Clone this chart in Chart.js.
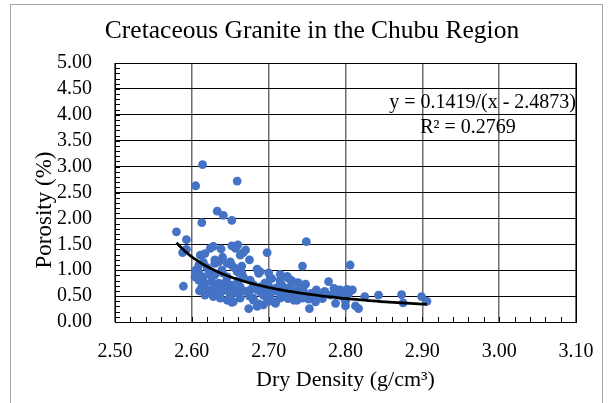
<!DOCTYPE html>
<html>
<head>
<meta charset="utf-8">
<script src="https://cdn.jsdelivr.net/npm/chart.js@4.4.1/dist/chart.umd.min.js"></script>
<style>
  html, body { margin: 0; padding: 0; background: #fff; }
  canvas { display: block; }
</style>
</head>
<body>
<canvas id="chart" width="613" height="403"></canvas>
<script>
// dry density (g/cm3) of each sample
var densityValues = [
  2.580, 2.593, 2.614, 2.605, 2.659, 2.613, 2.633, 2.641, 2.652, 2.589,
  2.749, 2.698, 2.744, 2.806, 2.873, 2.875, 2.843, 2.825, 2.899, 2.906,
  2.817, 2.588, 2.593,
  2.778, 2.738, 2.748, 2.762, 2.773, 2.785, 2.793, 2.802, 2.809, 2.804,
  2.799, 2.787, 2.800, 2.813, 2.753, 2.761, 2.752, 2.741, 2.739, 2.770, 2.737,
  2.660, 2.667, 2.652, 2.687, 2.715, 2.726, 2.704, 2.659, 2.667, 2.676,
  2.663, 2.676, 2.689, 2.698, 2.711, 2.724, 2.735, 2.674, 2.685, 2.693,
  2.707, 2.715, 2.654, 2.663, 2.680, 2.702, 2.737, 2.728, 2.693, 2.670, 2.652,
  2.628, 2.624, 2.652, 2.611, 2.617, 2.609, 2.609, 2.615, 2.622, 2.630,
  2.639, 2.630, 2.635, 2.646, 2.646, 2.617, 2.626, 2.635, 2.643, 2.622,
  2.630, 2.639, 2.648, 2.617, 2.628, 2.637, 2.646, 2.613, 2.609,
  2.638, 2.657, 2.670, 2.663, 2.675, 2.630, 2.650, 2.604, 2.652, 2.687,
  2.689, 2.702, 2.715, 2.724, 2.739, 2.709, 2.733, 2.744, 2.696,
  2.620, 2.640, 2.660, 2.680, 2.700, 2.710, 2.720, 2.690, 2.660, 2.650,
  2.680, 2.700, 2.720, 2.730, 2.760, 2.780, 2.790, 2.770, 2.800, 2.640,
  2.655, 2.665, 2.685, 2.700, 2.715, 2.730, 2.745, 2.755, 2.625, 2.610,
  2.605, 2.615, 2.625, 2.635, 2.645, 2.655, 2.665, 2.675, 2.685, 2.695,
  2.705, 2.718, 2.725, 2.745, 2.765, 2.795
];
// porosity (%) of each sample, same order
var porosityValues = [
  1.74, 1.59, 3.04, 2.63, 2.72, 1.92, 2.14, 2.06, 1.96, 0.69,
  1.55, 1.34, 1.08, 1.10, 0.53, 0.37, 0.52, 0.49, 0.49, 0.40,
  0.26, 1.34, 1.40,
  0.78, 0.76, 0.73, 0.62, 0.59, 0.65, 0.62, 0.63, 0.62, 0.55,
  0.46, 0.36, 0.31, 0.31, 0.26, 0.39, 0.44, 0.55, 0.71, 0.55, 0.46,
  1.49, 1.34, 1.10, 0.94, 0.81, 0.84, 0.84, 0.97, 0.87, 0.81,
  0.68, 0.62, 0.68, 0.62, 0.59, 0.55, 0.59, 0.26, 0.30, 0.33,
  0.39, 0.46, 0.39, 0.46, 0.46, 0.49, 0.42, 0.68, 0.52, 0.59, 0.71,
  1.46, 1.42, 1.47, 1.29, 1.32, 1.10, 0.97, 0.87, 1.00, 1.13,
  1.00, 0.91, 1.16, 1.13, 0.87, 0.75, 0.78, 0.75, 0.71, 0.62,
  0.65, 0.59, 0.59, 0.52, 0.49, 0.46, 0.42, 0.68, 0.81,
  1.41, 1.42, 1.39, 1.29, 1.20, 1.20, 1.16, 0.87, 0.38, 0.35,
  0.97, 0.85, 0.78, 0.88, 0.75, 0.36, 0.42, 0.46, 0.49,
  1.05, 0.95, 0.80, 0.72, 0.70, 0.66, 0.62, 0.56, 0.55, 0.50,
  0.42, 0.40, 0.50, 0.52, 0.50, 0.52, 0.55, 0.45, 0.40, 1.25,
  1.05, 1.08, 1.02, 0.95, 0.92, 0.80, 0.62, 0.55, 0.55, 0.60,
  1.00, 1.15, 0.90, 0.60, 0.80, 0.60, 0.95, 0.50, 0.62, 0.75,
  0.60, 0.70, 0.45, 0.55, 0.48, 0.50
];

// power-type fit shown on the chart: y = a / (x - b)
var fitA = 0.1419;
var fitB = 2.4873;
var fitLabel = 'y = 0.1419/(x - 2.4873)';
var r2Label = 'R\u00B2 = 0.2769';

var chartTitle = 'Cretaceous Granite in the Chubu Region';
var yTitle = 'Porosity (%)';
var xTitle = 'Dry Density (g/cm\u00B3)';

var xTicks = ['2.50', '2.60', '2.70', '2.80', '2.90', '3.00', '3.10'];
var yTicks = ['0.00', '0.50', '1.00', '1.50', '2.00', '2.50', '3.00', '3.50', '4.00', '4.50', '5.00'];

var FONT = '"Liberation Serif", "Times New Roman", serif';

var points = densityValues.map(function (d, i) {
  return { x: d, y: porosityValues[i] };
});

// trendline from the displayed equation, over the data's x range
var xMin = Math.min.apply(null, densityValues);
var xMax = Math.max.apply(null, densityValues);
var trend = [];
for (var i = 0; i <= 60; i++) {
  var tx = xMin + (xMax - xMin) * i / 60;
  trend.push({ x: tx, y: fitA / (tx - fitB) });
}

var extras = {
  id: 'extras',
  beforeDraw: function (chart) {
    var c = chart.ctx;
    c.save();
    c.fillStyle = '#fff';
    c.fillRect(0, 0, chart.width, chart.height);
    c.strokeStyle = '#a6a6a6';
    c.lineWidth = 1;
    c.strokeRect(10.5, 4.5, 592, 420);
    c.restore();
  },
  beforeDatasetsDraw: function (chart) {
    var c = chart.ctx;
    var xs = chart.scales.x, ys = chart.scales.y;
    var a = chart.chartArea;
    c.save();
    c.strokeStyle = '#000';
    c.lineWidth = 1;
    c.beginPath();
    // minor ticks, inside the plot
    for (var k = 0; k <= 30; k++) {
      var px = Math.round(xs.getPixelForValue(2.5 + k * 0.02)) + 0.5;
      c.moveTo(px, a.bottom);
      c.lineTo(px, a.bottom - 5);
    }
    for (var j = 0; j <= 50; j++) {
      var py = Math.round(ys.getPixelForValue(j * 0.1)) + 0.5;
      c.moveTo(a.left, py);
      c.lineTo(a.left + 5, py);
    }
    c.stroke();
    c.strokeRect(Math.round(a.left) + 0.5, Math.round(a.top) + 0.5,
      Math.round(a.right - a.left), Math.round(a.bottom - a.top));
    c.restore();
  },
  afterDraw: function (chart) {
    var c = chart.ctx;
    var a = chart.chartArea;
    c.save();
    c.fillStyle = '#000';
    c.textBaseline = 'middle';
    // chart title
    c.font = '25.5px ' + FONT;
    c.textAlign = 'center';
    c.fillText(chartTitle, 312, 31);
    // trendline label
    c.font = '20px ' + FONT;
    c.textAlign = 'right';
    c.fillText(fitLabel, a.right, 103);
    c.textAlign = 'center';
    c.fillText(r2Label, 468, 128);
    // y axis title
    c.font = '23px ' + FONT;
    c.translate(45, 210);
    c.rotate(-Math.PI / 2);
    c.fillText(yTitle, 0, 0);
    c.restore();
  }
};

new Chart(document.getElementById('chart').getContext('2d'), {
  type: 'scatter',
  data: {
    datasets: [{
      label: 'Trend',
      data: trend,
      showLine: true,
      pointRadius: 0,
      borderColor: '#000',
      borderWidth: 2.75,
      order: 0
    }, {
      label: 'Samples',
      data: points,
      pointRadius: 4.4,
      pointHoverRadius: 4.4,
      backgroundColor: '#4472C4',
      borderColor: '#4472C4',
      borderWidth: 0,
      order: 1
    }]
  },
  options: {
    responsive: false,
    animation: false,
    devicePixelRatio: 1,
    layout: { padding: { left: 0, right: 37, top: 63, bottom: 0 } },
    plugins: {
      legend: { display: false },
      tooltip: { enabled: false },
      title: { display: false }
    },
    scales: {
      x: {
        type: 'linear',
        min: 2.5,
        max: 3.1,
        afterBuildTicks: function (scale) {
          scale.ticks = xTicks.map(function (t) { return { value: parseFloat(t) }; });
        },
        afterFit: function (scale) { scale.height = 81; },
        ticks: {
          color: '#000',
          font: { family: FONT, size: 20 },
          padding: 18,
          autoSkip: false,
          maxRotation: 0,
          callback: function (v) { return v.toFixed(2); }
        },
        grid: { color: '#6e6e6e', lineWidth: 1.5, drawTicks: false },
        border: { color: '#000', width: 1 },
        title: {
          display: true,
          text: xTitle,
          color: '#000',
          font: { family: FONT, size: 22, weight: 'normal' },
          padding: { top: 10, bottom: 10 }
        }
      },
      y: {
        type: 'linear',
        min: 0,
        max: 5,
        afterBuildTicks: function (scale) {
          scale.ticks = yTicks.map(function (t) { return { value: parseFloat(t) }; });
        },
        afterFit: function (scale) { scale.width = 115; },
        ticks: {
          color: '#000',
          font: { family: FONT, size: 20 },
          padding: 23,
          autoSkip: false,
          callback: function (v) { return v.toFixed(2); }
        },
        grid: { color: '#000', lineWidth: 1, drawTicks: false },
        border: { color: '#000', width: 1 },
        title: { display: false }
      }
    }
  },
  plugins: [extras]
});
</script>
</body>
</html>
